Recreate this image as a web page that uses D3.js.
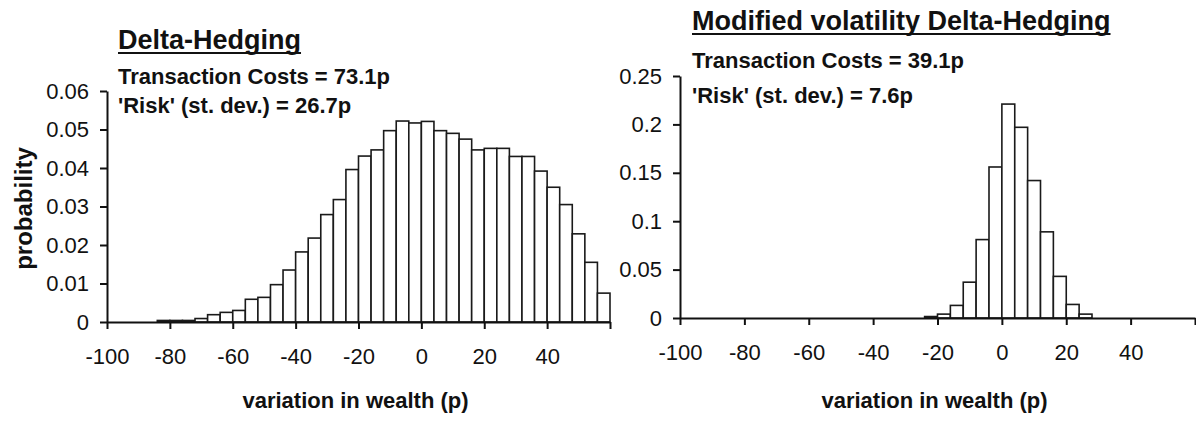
<!DOCTYPE html>
<html>
<head>
<meta charset="utf-8">
<script src="https://cdn.jsdelivr.net/npm/d3@7"></script>
<style>
  html, body { margin: 0; padding: 0; background: #fff; }
  svg { display: block; }
  text { font-family: "Liberation Sans", Arial, Helvetica, sans-serif; fill: #111; }
</style>
</head>
<body>
<svg id="chart" width="1196" height="425"></svg>
<script>
// Histogram bins: left edge of each 4p-wide bin of variation in wealth
const binStarts = [-100, -96, -92, -88, -84, -80, -76, -72, -68, -64,
                   -60, -56, -52, -48, -44, -40, -36, -32, -28, -24,
                   -20, -16, -12, -8, -4, 0, 4, 8, 12, 16,
                   20, 24, 28, 32, 36, 40, 44, 48, 52, 56];
const binWidth = 4;

// Probability per bin, standard delta-hedging
const deltaProb = [0, 0, 0, 0, 0.0004, 0.0004, 0.0004, 0.0009, 0.0019, 0.0025,
                   0.003, 0.0059, 0.0064, 0.0097, 0.0135, 0.0182, 0.0218, 0.0279, 0.0318, 0.0396,
                   0.0431, 0.0447, 0.0497, 0.0522, 0.0517, 0.0521, 0.0497, 0.049, 0.0475, 0.0447,
                   0.0451, 0.0451, 0.043, 0.043, 0.0392, 0.035, 0.0305, 0.0229, 0.0155, 0.0075];

// Probability per bin, modified volatility delta-hedging
const modProb = [0, 0, 0, 0, 0, 0, 0, 0, 0, 0,
                 0, 0, 0, 0, 0, 0, 0, 0, 0, 0.0015,
                 0.004, 0.013, 0.037, 0.081, 0.156, 0.221, 0.197, 0.142, 0.089, 0.043,
                 0.014, 0.004, 0, 0, 0, 0, 0, 0, 0, 0];

// Axis ticks and labels
const xTicks = [-100, -80, -60, -40, -20, 0, 20, 40, 60];
const xTickLabels = ["-100", "-80", "-60", "-40", "-20", "0", "20", "40", ""];
const yTicksLeft = [0, 0.01, 0.02, 0.03, 0.04, 0.05, 0.06];
const yTickLabelsLeft = ["0", "0.01", "0.02", "0.03", "0.04", "0.05", "0.06"];
const yTicksRight = [0, 0.05, 0.1, 0.15, 0.2, 0.25];
const yTickLabelsRight = ["0", "0.05", "0.1", "0.15", "0.2", "0.25"];

// Panel texts
const panelTitles = ["Delta-Hedging", "Modified volatility Delta-Hedging"];
const costLines = ["Transaction Costs = 73.1p", "Transaction Costs = 39.1p"];
const riskLines = ["'Risk' (st. dev.) = 26.7p", "'Risk' (st. dev.) = 7.6p"];
const xTitle = "variation in wealth (p)";
const yTitle = "probability";

const svg = d3.select("#chart");

const panels = [
  {
    values: deltaProb, yMax: 0.06, yTicks: yTicksLeft, yLabels: yTickLabelsLeft,
    x0: 107, x1: 610, yTop: 91, yBase: 322,
    titleX: 118, titleY: 49, costY: 84, riskY: 113, yTitle: true
  },
  {
    values: modProb, yMax: 0.25, yTicks: yTicksRight, yLabels: yTickLabelsRight,
    x0: 680, x1: 1195, yTop: 76, yBase: 318,
    titleX: 692, titleY: 30, costY: 68, riskY: 103, yTitle: false
  }
];

panels.forEach((p, i) => {
  const x = d3.scaleLinear().domain([-100, 60]).range([p.x0, p.x1]);
  const y = d3.scaleLinear().domain([0, p.yMax]).range([p.yBase, p.yTop]);
  const g = svg.append("g");

  // bars
  const bins = binStarts.map((b, k) => ({ b, v: p.values[k] })).filter(d => d.v > 0);
  g.append("g").selectAll("rect")
    .data(bins)
    .join("rect")
    .attr("x", d => x(d.b))
    .attr("y", d => y(d.v))
    .attr("width", d => x(d.b + binWidth) - x(d.b))
    .attr("height", d => y(0) - y(d.v))
    .attr("fill", "#fff")
    .attr("stroke", "#1a1a1a")
    .attr("stroke-width", 1.6);

  // x axis
  const xAxis = d3.axisBottom(x)
    .tickValues(xTicks)
    .tickFormat((d, k) => xTickLabels[k])
    .tickSizeInner(7)
    .tickSizeOuter(0)
    .tickPadding(19);
  const gx = g.append("g").attr("transform", `translate(0,${p.yBase})`).call(xAxis);

  // y axis
  const yAxis = d3.axisLeft(y)
    .tickValues(p.yTicks)
    .tickFormat((d, k) => p.yLabels[k])
    .tickSizeInner(7)
    .tickSizeOuter(0)
    .tickPadding(11);
  const gy = g.append("g").attr("transform", `translate(${p.x0},0)`).call(yAxis);

  [gx, gy].forEach(ax => {
    ax.select(".domain").attr("stroke", "#111").attr("stroke-width", 2);
    ax.selectAll(".tick line").attr("stroke", "#111").attr("stroke-width", 2);
    ax.selectAll(".tick text")
      .style("font-family", '"Liberation Sans", Arial, sans-serif')
      .style("font-size", "22px")
      .attr("fill", "#111");
  });

  // x axis title
  g.append("text")
    .attr("x", (p.x0 + p.x1) / 2 - 3)
    .attr("y", 408)
    .attr("text-anchor", "middle")
    .style("font-size", "22px")
    .style("font-weight", "bold")
    .text(xTitle);

  // y axis title
  if (p.yTitle) {
    g.append("text")
      .attr("transform", `translate(32,${(p.yTop + p.yBase) / 2 + 2}) rotate(-90)`)
      .attr("text-anchor", "middle")
      .style("font-size", "24px")
      .style("font-weight", "bold")
      .text(yTitle);
  }

  // panel title, underlined
  const t = g.append("text")
    .attr("x", p.titleX)
    .attr("y", p.titleY)
    .style("font-size", "27px")
    .style("font-weight", "bold")
    .text(panelTitles[i]);
  const tw = t.node().getComputedTextLength();
  g.append("line")
    .attr("x1", p.titleX).attr("x2", p.titleX + tw)
    .attr("y1", p.titleY + 4).attr("y2", p.titleY + 4)
    .attr("stroke", "#111").attr("stroke-width", 2.2);

  // cost and risk annotations
  g.append("text")
    .attr("x", p.titleX).attr("y", p.costY)
    .style("font-size", "22px").style("font-weight", "bold")
    .text(costLines[i]);
  g.append("text")
    .attr("x", p.titleX).attr("y", p.riskY)
    .style("font-size", "22px").style("font-weight", "bold")
    .text(riskLines[i]);
});
</script>
</body>
</html>
